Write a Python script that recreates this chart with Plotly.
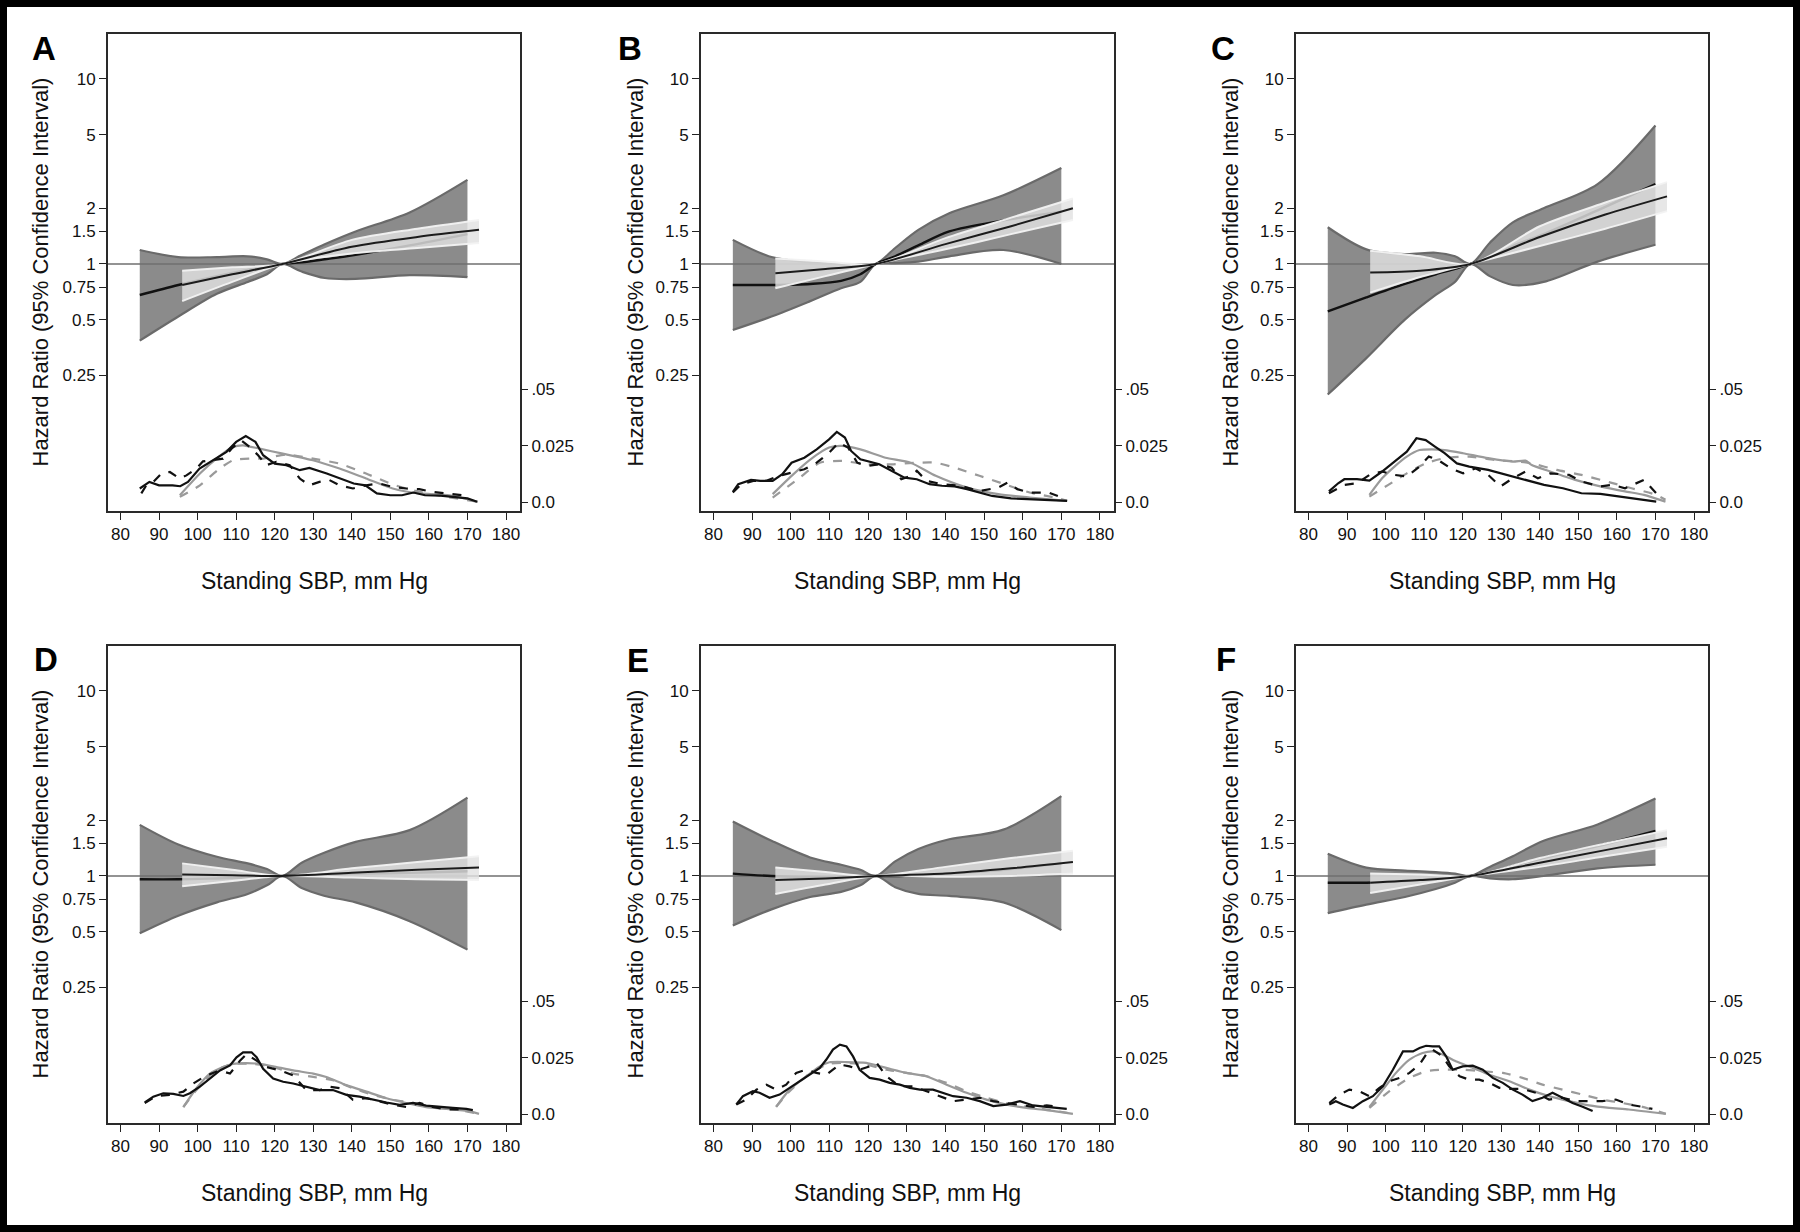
import plotly.graph_objects as go

# ---------------- axis / tick data ----------------
SBP_TICKS = list(range(80, 190, 10))
HR_TICKS = [0.25, 0.5, 0.75, 1, 1.5, 2, 5, 10]
HR_TICK_TEXT = ["0.25", "0.5", "0.75", "1", "1.5", "2", "5", "10"]
DENS_TICKS = [0, 0.025, 0.05]
DENS_TICK_TEXT = ["0.0", "0.025", ".05"]
PANEL_LABELS = ["A", "B", "C", "D", "E", "F"]
X_TITLE = "Standing SBP, mm Hg"
Y_TITLE = "Hazard Ratio (95% Confidence Interval)"
X_RANGE = [76.76, 183.63]
HR_REF = 1

# shared x grids for the hazard-ratio curves
DARK_X = [85, 95, 105, 113, 118, 122, 127, 133, 141, 155, 170]
LIGHT_X = [96, 109, 122, 140, 157, 173]

# ---------------- Panel A ----------------
A_DARK_UP = [1.19, 1.09, 1.09, 1.10, 1.06, 1.0, 1.12, 1.28, 1.50, 1.90, 2.85]
A_DARK_LO = [0.385, 0.52, 0.69, 0.80, 0.88, 1.0, 0.91, 0.84, 0.83, 0.87, 0.85]
A_LINE1 = [0.68, 0.77, 0.86, 0.93, 0.97, 1.0, 1.02, 1.06, 1.12, 1.26, 1.45]
A_LIGHT_UP = [0.92, 0.96, 1.0, 1.35, 1.55, 1.73]
A_LIGHT_LO = [0.63, 0.80, 1.0, 1.14, 1.22, 1.30]
A_LINE2 = [0.77, 0.88, 1.0, 1.24, 1.40, 1.53]
A_BS_X = [85, 87.5, 90, 93.5, 95.5, 97.5, 100.5, 104, 107.5, 110, 112.5, 115, 117, 120, 123, 126.5, 129, 133.5, 137, 140.5, 143.5, 146.5, 150, 153, 156, 159, 163, 166, 170, 172.5]
A_BS_Y = [.0062, .0091, .0076, .0076, .0072, .0091, .015, .0187, .0224, .0268, .0294, .0268, .0209, .0172, .0165, .0143, .0153, .0128, .0106, .0084, .0076, .004, .0032, .0032, .0044, .0032, .003, .0025, .0018, .0003]
A_BD_X = [85.4, 86.7, 88.5, 90.6, 92.8, 95.4, 97.1, 99.7, 101.4, 104, 106.6, 108.8, 111.3, 113.5, 115.7, 117.8, 120.4, 123.9, 126.5, 129, 131.6, 134.2, 136.8, 140.3, 143.7, 147.2, 150.6, 154.1, 157.5, 161, 164.5, 167.9, 169.6]
A_BD_Y = [.004, .0076, .0091, .0128, .0135, .0106, .012, .015, .0182, .0187, .0194, .0238, .0275, .0246, .0209, .0165, .018, .0165, .0106, .0076, .0091, .0099, .0076, .0062, .0076, .0084, .0069, .0062, .0059, .0047, .004, .0032, .003]
A_GS_X = [95.4, 100.6, 104.9, 109.2, 111.8, 116.1, 122.1, 129.9, 136.8, 143.7, 150.6, 157.5, 165.3, 172.7]
A_GS_Y = [.0032, .0128, .0194, .0246, .0253, .0238, .0216, .0187, .015, .0106, .0062, .004, .0032, .0003]
A_GD_X = [95.4, 100.6, 105.7, 109.2, 113.5, 117, 123, 129.9, 136.8, 143.7, 150.6, 157.5, 164.5, 172.7]
A_GD_Y = [.0025, .0076, .015, .0187, .0194, .0194, .0212, .0194, .0172, .0128, .008, .0047, .0025, .0003]

# ---------------- Panel B ----------------
B_DARK_UP = [1.35, 1.09, 1.02, 1.0, 1.0, 1.0, 1.22, 1.53, 1.88, 2.35, 3.3]
B_DARK_LO = [0.44, 0.52, 0.63, 0.74, 0.80, 1.0, 1.01, 1.03, 1.10, 1.19, 1.0]
B_LINE1 = [0.77, 0.77, 0.78, 0.81, 0.88, 1.0, 1.10, 1.26, 1.50, 1.72, 1.92]
B_LIGHT_UP = [1.07, 1.03, 1.0, 1.38, 1.78, 2.26]
B_LIGHT_LO = [0.74, 0.86, 1.0, 1.20, 1.45, 1.73]
B_LINE2 = [0.89, 0.94, 1.0, 1.28, 1.60, 2.0]
B_BS_X = [85, 86.4, 89.7, 92.1, 95.3, 97.8, 100.2, 103.5, 106.7, 109.9, 111.9, 114, 115.6, 118, 122.9, 126.1, 129.4, 132.6, 135.9, 139.1, 142.4, 145.6, 148.8, 152.1, 157, 161.8, 166.7, 171.5]
B_BS_Y = [.0047, .0081, .01, .0096, .0096, .0125, .0176, .0198, .0235, .0279, .0312, .0287, .0228, .0191, .0169, .014, .011, .0103, .0081, .0074, .0071, .0059, .0044, .0029, .0018, .0015, .0012, .0007]
B_BD_X = [85, 87.2, 90.5, 93.7, 97, 100.2, 103.5, 106.7, 109.9, 112.4, 114.8, 117.2, 119.7, 122.9, 126.1, 128.6, 131, 132.6, 135.1, 139.1, 144, 148.8, 153.7, 156.1, 158.6, 161.8, 166.7, 169.1]
B_BD_Y = [.0044, .0081, .0096, .0096, .0118, .0132, .0147, .0176, .022, .0265, .0243, .0176, .0162, .0169, .0154, .0103, .0118, .014, .0096, .0081, .0074, .0051, .0066, .0088, .0059, .0044, .0044, .0029]
B_GS_X = [95.3, 100.2, 105.1, 109.9, 113.2, 118, 124.5, 131, 137.5, 145.6, 153.7, 161.8, 171.5]
B_GS_Y = [.0037, .0118, .0191, .0243, .025, .0235, .0198, .0176, .0118, .0066, .0037, .0022, .0007]
B_GD_X = [95.3, 101.8, 107.5, 113.2, 119.7, 126.1, 132.6, 137.5, 142.4, 148.8, 155.3, 161.8, 168.3, 171.5]
B_GD_Y = [.0022, .0103, .0176, .0184, .0169, .0169, .0176, .0176, .0154, .0118, .0081, .0044, .0022, .0007]

# ---------------- Panel C ----------------
C_DARK_UP = [1.58, 1.20, 1.13, 1.15, 1.10, 1.0, 1.30, 1.68, 2.0, 2.7, 5.6]
C_DARK_LO = [0.197, 0.31, 0.50, 0.68, 0.80, 1.0, 0.86, 0.77, 0.80, 1.03, 1.27]
C_LINE1 = [0.555, 0.66, 0.78, 0.88, 0.94, 1.0, 1.08, 1.25, 1.45, 1.95, 2.7]
C_LIGHT_UP = [1.18, 1.10, 1.0, 1.60, 2.15, 2.77]
C_LIGHT_LO = [0.70, 0.85, 1.0, 1.25, 1.55, 1.93]
C_LINE2 = [0.90, 0.92, 1.0, 1.40, 1.85, 2.32]
C_BS_X = [85.3, 87.7, 89.3, 92.6, 95.8, 99.1, 102.3, 105.5, 108, 110.4, 112.8, 115.3, 118.5, 121.7, 126.6, 131.4, 136.3, 141.1, 146, 150.8, 155.7, 160.5, 165.4, 170.2]
C_BS_Y = [.0049, .0085, .0103, .0103, .0097, .0137, .0181, .0225, .0284, .0276, .0247, .0218, .0173, .0159, .0144, .0122, .01, .0078, .0063, .0041, .0038, .0026, .0015, .0004]
C_BD_X = [85.3, 89.3, 92.6, 95.8, 99.1, 102.3, 105.5, 108.8, 111.2, 113.6, 116.9, 120.1, 123.3, 126.6, 129.8, 133, 136.3, 139.5, 142.7, 147.6, 150.8, 155.7, 158.9, 162.1, 167, 170.2]
C_BD_Y = [.0041, .0078, .0085, .0122, .0137, .0122, .0115, .0159, .0203, .0188, .0151, .0129, .0151, .0122, .0071, .0107, .0137, .0107, .0129, .0122, .0093, .0071, .0078, .0063, .01, .0041]
C_GS_X = [95.8, 99.1, 102.3, 105.5, 108.8, 112, 115.3, 120.1, 126.6, 133, 136.3, 137.9, 142.7, 149.2, 155.7, 162.1, 167, 172.6]
C_GS_Y = [.0034, .0107, .0159, .0203, .0232, .0235, .0232, .0218, .0196, .0181, .0185, .0166, .0137, .01, .0071, .0049, .0034, .0004]
C_GD_X = [95.8, 100.7, 105.5, 110.4, 115.3, 121.7, 128.2, 134.6, 137.9, 144.4, 150.8, 157.3, 163.8, 170.2, 172.6]
C_GD_Y = [.0026, .0078, .0129, .0173, .0196, .0203, .0188, .0181, .0173, .0144, .0122, .0093, .0063, .0034, .0012]

# ---------------- Panel D ----------------
D_DARK_UP = [1.89, 1.48, 1.27, 1.17, 1.09, 1.0, 1.18, 1.34, 1.53, 1.77, 2.65]
D_DARK_LO = [0.49, 0.61, 0.72, 0.80, 0.89, 1.0, 0.86, 0.78, 0.72, 0.57, 0.40]
D_LINE1 = [0.96, 0.96, 0.97, 0.98, 0.99, 1.0, 1.01, 1.02, 1.03, 1.04, 1.06]
D_LIGHT_UP = [1.17, 1.08, 1.0, 1.10, 1.19, 1.28]
D_LIGHT_LO = [0.88, 0.94, 1.0, 0.98, 0.96, 0.95]
D_LINE2 = [1.02, 1.01, 1.0, 1.04, 1.08, 1.11]
D_BS_X = [86.3, 88.5, 91.1, 93.7, 96.3, 98.0, 100.6, 103.2, 105.8, 108.4, 110.1, 111.8, 114, 115.3, 117, 119.6, 122.2, 124.8, 128.2, 131.7, 135.1, 138.6, 142.0, 145.5, 149.0, 152.4, 155.9, 159.3, 162.8, 166.2, 169.7, 171.4]
D_BS_Y = [.0053, .0079, .0094, .0091, .0082, .0094, .0123, .0159, .0195, .0217, .0253, .0275, .0275, .0253, .0202, .0159, .0145, .0137, .0123, .0108, .0108, .0087, .0079, .0065, .0053, .0043, .0051, .0039, .0033, .0029, .0025, .0019]
D_BD_X = [86.3, 89.4, 92.8, 96.3, 98.9, 102.3, 105.8, 108.4, 111, 112.7, 115.3, 117.9, 121.4, 124.8, 128.2, 131.7, 134.3, 136.9, 140.3, 143.8, 147.2, 150.7, 154.1, 157.6, 161, 164.5, 168]
D_BD_Y = [.0051, .0082, .0087, .0101, .0137, .0173, .0195, .0181, .0238, .0267, .0238, .021, .0195, .0173, .0108, .0108, .0123, .0116, .0065, .0072, .0058, .0043, .0033, .0051, .0033, .0022, .0022]
D_GS_X = [96.3, 99.7, 103.2, 106.6, 109.2, 112.7, 116.1, 120.5, 124.8, 130, 133.4, 138.6, 143.8, 149, 154.1, 159.3, 164.5, 170.5, 173]
D_GS_Y = [.0033, .0116, .0181, .021, .0224, .0227, .0224, .021, .0195, .0181, .0166, .013, .0101, .0072, .0051, .0033, .0025, .0014, .0003]
D_GD_X = [96.3, 99.7, 103.2, 106.6, 109.2, 114.4, 119.6, 124.8, 130, 135.1, 140.3, 145.5, 150.7, 155.9, 161, 166.2, 173]
D_GD_Y = [.0033, .0108, .0173, .021, .0224, .0224, .021, .0181, .0166, .0152, .0116, .0087, .0065, .0051, .0033, .0025, .0003]

# ---------------- Panel E ----------------
E_DARK_UP = [1.97, 1.55, 1.26, 1.15, 1.08, 1.0, 1.20, 1.40, 1.58, 1.78, 2.70]
E_DARK_LO = [0.54, 0.66, 0.77, 0.82, 0.89, 1.0, 0.87, 0.80, 0.78, 0.72, 0.51]
E_LINE1 = [1.03, 1.0, 0.99, 0.99, 1.0, 1.0, 1.0, 1.01, 1.03, 1.08, 1.17]
E_LIGHT_UP = [1.11, 1.05, 1.0, 1.12, 1.25, 1.37]
E_LIGHT_LO = [0.80, 0.90, 1.0, 0.99, 1.0, 1.03]
E_LINE2 = [0.95, 0.97, 1.0, 1.03, 1.10, 1.19]
E_BS_X = [85.9, 87.6, 90.2, 91.9, 94.5, 97.1, 99.7, 102.3, 104.9, 107.5, 109.2, 110.9, 112.7, 114.4, 116.1, 117.8, 120.4, 123, 125.6, 128.2, 130.8, 133.4, 136.8, 139.4, 142, 145.5, 148.9, 152.4, 155.8, 159.3, 162.7, 166.2, 169.6, 171.4]
E_BS_Y = [.0044, .0081, .0103, .0096, .0074, .0088, .0118, .0147, .0176, .0206, .0243, .0287, .0309, .0301, .0257, .0198, .0162, .0154, .014, .0132, .0118, .011, .011, .0096, .0081, .0074, .0059, .0037, .0044, .0059, .004, .0034, .0029, .0025]
E_BD_X = [85.9, 88.5, 91.1, 93.7, 96.2, 98.8, 101.4, 104, 106.6, 109.2, 110.9, 112.7, 115.2, 117.8, 120.4, 122.2, 124.7, 128.2, 131.6, 135.1, 138.5, 142, 145.5, 148.9, 152.4, 155.8, 159.3, 162.7, 166.2, 169.6]
E_BD_Y = [.0044, .0066, .011, .0132, .011, .0132, .0184, .0198, .0184, .0176, .0198, .0221, .0213, .0198, .0213, .0228, .0169, .0125, .0125, .0103, .0081, .0059, .0066, .0074, .0059, .0051, .0044, .0034, .004, .0034]
E_GS_X = [96.2, 99.7, 104, 107.5, 110, 114.4, 119.5, 124.7, 129.9, 135.1, 140.3, 145.5, 150.6, 155.8, 161, 166.2, 173]
E_GS_Y = [.0034, .011, .0169, .0213, .0231, .0232, .0228, .0206, .0184, .0169, .0132, .0096, .0066, .0044, .0029, .0019, .0003]
E_GD_X = [96.2, 99.7, 104, 107.5, 110, 114.4, 119.5, 124.7, 129.9, 135.1, 140.3, 145.5, 150.6, 155.8, 161, 166.2, 173]
E_GD_Y = [.0034, .0103, .0169, .0206, .0225, .0228, .022, .0198, .0184, .0169, .014, .0103, .0074, .0051, .0034, .0022, .0003]

# ---------------- Panel F ----------------
F_DARK_UP = [1.32, 1.11, 1.07, 1.05, 1.03, 1.0, 1.12, 1.28, 1.55, 1.90, 2.62]
F_DARK_LO = [0.63, 0.70, 0.77, 0.85, 0.92, 1.0, 0.97, 0.96, 1.0, 1.10, 1.15]
F_LINE1 = [0.92, 0.92, 0.94, 0.97, 0.99, 1.0, 1.05, 1.13, 1.25, 1.45, 1.75]
F_LIGHT_UP = [1.03, 1.02, 1.0, 1.25, 1.50, 1.77]
F_LIGHT_LO = [0.81, 0.90, 1.0, 1.12, 1.28, 1.44]
F_LINE2 = [0.92, 0.95, 1.0, 1.18, 1.38, 1.60]
F_BS_X = [85.4, 87.1, 88.9, 91.5, 94.1, 96.7, 99.3, 101.9, 104.5, 107.1, 108.8, 110.5, 112.2, 113.9, 115.7, 117.4, 120, 122.6, 125.2, 127.8, 130.4, 133, 135.5, 138.1, 140.7, 143.3, 145.9, 148.5, 151.1, 153.7]
F_BS_Y = [.0044, .0059, .0044, .0029, .0059, .0081, .0125, .0198, .0279, .0279, .0294, .0304, .0301, .0301, .0257, .0198, .0213, .0216, .0198, .0162, .014, .011, .0088, .0059, .0074, .0096, .0074, .0051, .0034, .0015]
F_BD_X = [85.4, 88, 90.6, 93.2, 95.8, 98.4, 101, 103.6, 106.2, 108.8, 110.5, 112.2, 114.8, 116.5, 119.2, 121.7, 124.3, 126.9, 129.5, 132.1, 135.5, 139, 142.4, 145.9, 149.3, 152.8, 156.2, 159.7, 163.1, 166.6, 169.2]
F_BD_Y = [.0051, .0088, .011, .0103, .0081, .0118, .0147, .0162, .0184, .0221, .0265, .0287, .0257, .0213, .0169, .0154, .0154, .014, .0118, .0113, .0113, .0096, .0066, .0074, .0059, .0059, .0059, .0066, .0044, .0034, .0025]
F_GS_X = [95.8, 99.3, 102.7, 106.2, 109.6, 112.2, 114.8, 118.2, 122.6, 126.9, 132.1, 137.3, 142.4, 147.6, 152.8, 158, 163.1, 172.7]
F_GS_Y = [.0034, .011, .0184, .0243, .0272, .0279, .0265, .0235, .0206, .0176, .0147, .011, .0081, .0059, .004, .0029, .0022, .0003]
F_GD_X = [95.8, 101, 106.2, 110.5, 114.8, 120, 125.2, 130.4, 135.5, 140.7, 145.9, 151.1, 156.2, 161.4, 166.6, 172.7]
F_GD_Y = [.0029, .0103, .0162, .0191, .0198, .0198, .0191, .0184, .0162, .0132, .011, .0088, .0066, .0051, .0034, .0003]

PANELS = [
    (A_DARK_UP, A_DARK_LO, A_LINE1, A_LIGHT_UP, A_LIGHT_LO, A_LINE2,
     (A_BS_X, A_BS_Y), (A_BD_X, A_BD_Y), (A_GS_X, A_GS_Y), (A_GD_X, A_GD_Y)),
    (B_DARK_UP, B_DARK_LO, B_LINE1, B_LIGHT_UP, B_LIGHT_LO, B_LINE2,
     (B_BS_X, B_BS_Y), (B_BD_X, B_BD_Y), (B_GS_X, B_GS_Y), (B_GD_X, B_GD_Y)),
    (C_DARK_UP, C_DARK_LO, C_LINE1, C_LIGHT_UP, C_LIGHT_LO, C_LINE2,
     (C_BS_X, C_BS_Y), (C_BD_X, C_BD_Y), (C_GS_X, C_GS_Y), (C_GD_X, C_GD_Y)),
    (D_DARK_UP, D_DARK_LO, D_LINE1, D_LIGHT_UP, D_LIGHT_LO, D_LINE2,
     (D_BS_X, D_BS_Y), (D_BD_X, D_BD_Y), (D_GS_X, D_GS_Y), (D_GD_X, D_GD_Y)),
    (E_DARK_UP, E_DARK_LO, E_LINE1, E_LIGHT_UP, E_LIGHT_LO, E_LINE2,
     (E_BS_X, E_BS_Y), (E_BD_X, E_BD_Y), (E_GS_X, E_GS_Y), (E_GD_X, E_GD_Y)),
    (F_DARK_UP, F_DARK_LO, F_LINE1, F_LIGHT_UP, F_LIGHT_LO, F_LINE2,
     (F_BS_X, F_BS_Y), (F_BD_X, F_BD_Y), (F_GS_X, F_GS_Y), (F_GD_X, F_GD_Y)),
]

# ---------------- layout geometry (pixels) ----------------
W, H = 1800, 1232
COLS_PX = [(108, 520), (701, 1114), (1296, 1708)]
ROWS_PX = [(34, 511), (646, 1123)]
YTITLE_X = [40, 635, 1230]
LETTER_POS = [(44, 48), (630, 48), (1223, 48), (46, 659), (638, 660), (1226, 659)]
HR_LOG_RANGE = [-1.335, 1.243]
DENS_RANGE = [-0.00376, 0.2072]

FONT = "Liberation Sans, Arial, Helvetica, sans-serif"
DARK_FILL = "#8b8b8b"
DARK_EDGE = "#6a6a6a"
LIGHT_FILL = "rgba(226,226,226,0.82)"
LIGHT_EDGE = "rgba(242,242,242,0.95)"
GRAY_LINE = "#9a9a9a"
TICK_FONT = dict(size=17, color="#111")

fig = go.Figure()
layout = dict(
    width=W, height=H, autosize=False,
    margin=dict(l=0, r=0, t=0, b=0),
    paper_bgcolor="white", plot_bgcolor="white",
    showlegend=False, font=dict(family=FONT, color="#111"),
    hovermode=False,
)
annotations = []

for i, panel in enumerate(PANELS):
    dark_up, dark_lo, line1, light_up, light_lo, line2, bs, bd, gs, gd = panel
    col, row = i % 3, i // 3
    xa = "x" if i == 0 else f"x{i + 1}"
    ya = f"y{2 * i + 1}" if i > 0 else "y"
    yd = f"y{2 * i + 2}"
    xkey = "xaxis" if i == 0 else f"xaxis{i + 1}"
    ykey = "yaxis" if i == 0 else f"yaxis{2 * i + 1}"
    ydkey = f"yaxis{2 * i + 2}"

    x0, x1 = COLS_PX[col]
    t0, t1 = ROWS_PX[row]
    dom_x = [x0 / W, x1 / W]
    dom_y = [1 - t1 / H, 1 - t0 / H]

    layout[xkey] = dict(
        domain=dom_x, anchor=ya, range=X_RANGE, tickmode="array", tickvals=SBP_TICKS,
        ticks="outside", ticklen=7, tickwidth=1.3, tickcolor="#222",
        showline=True, linecolor="#2a2a2a", linewidth=1.8, mirror=True,
        showgrid=False, zeroline=False, tickfont=TICK_FONT,
    )
    layout[ykey] = dict(
        domain=dom_y, anchor=xa, type="log", range=HR_LOG_RANGE, tickmode="array",
        tickvals=HR_TICKS, ticktext=HR_TICK_TEXT,
        ticks="outside", ticklen=7, tickwidth=1.3, tickcolor="#222",
        showline=True, linecolor="#2a2a2a", linewidth=1.8, mirror=True,
        showgrid=False, zeroline=False, tickfont=TICK_FONT,
    )
    layout[ydkey] = dict(
        overlaying=ya, anchor=xa, side="right", range=DENS_RANGE, tickmode="array",
        tickvals=DENS_TICKS, ticktext=DENS_TICK_TEXT,
        ticks="outside", ticklen=7, tickwidth=1.3, tickcolor="#222",
        showline=False, showgrid=False, zeroline=False, tickfont=TICK_FONT,
    )

    # dark confidence band
    fig.add_trace(go.Scatter(x=DARK_X, y=dark_lo, xaxis=xa, yaxis=ya, mode="lines",
                             line=dict(color=DARK_EDGE, width=2.2, shape="spline", smoothing=0.9)))
    fig.add_trace(go.Scatter(x=DARK_X, y=dark_up, xaxis=xa, yaxis=ya, mode="lines",
                             fill="tonexty", fillcolor=DARK_FILL,
                             line=dict(color=DARK_EDGE, width=2.2, shape="spline", smoothing=0.9)))
    # reference line HR = 1
    fig.add_trace(go.Scatter(x=X_RANGE, y=[HR_REF, HR_REF], xaxis=xa, yaxis=ya, mode="lines",
                             line=dict(color="#6f6f6f", width=1.5)))
    # model 1 line
    fig.add_trace(go.Scatter(x=DARK_X, y=line1, xaxis=xa, yaxis=ya, mode="lines",
                             line=dict(color="#111", width=2.4, shape="spline", smoothing=0.9)))
    # light confidence band
    fig.add_trace(go.Scatter(x=LIGHT_X, y=light_lo, xaxis=xa, yaxis=ya, mode="lines",
                             line=dict(color=LIGHT_EDGE, width=2.0, shape="spline", smoothing=0.8)))
    fig.add_trace(go.Scatter(x=LIGHT_X, y=light_up, xaxis=xa, yaxis=ya, mode="lines",
                             fill="tonexty", fillcolor=LIGHT_FILL,
                             line=dict(color=LIGHT_EDGE, width=2.0, shape="spline", smoothing=0.8)))
    # model 2 line
    fig.add_trace(go.Scatter(x=LIGHT_X, y=line2, xaxis=xa, yaxis=ya, mode="lines",
                             line=dict(color="#1c1c1c", width=2.0, shape="spline", smoothing=0.8)))

    # density curves (right axis)
    fig.add_trace(go.Scatter(x=gd[0], y=gd[1], xaxis=xa, yaxis=yd, mode="lines",
                             line=dict(color=GRAY_LINE, width=2.2, dash="dash", shape="spline", smoothing=0.6)))
    fig.add_trace(go.Scatter(x=gs[0], y=gs[1], xaxis=xa, yaxis=yd, mode="lines",
                             line=dict(color=GRAY_LINE, width=2.2, shape="spline", smoothing=0.6)))
    fig.add_trace(go.Scatter(x=bd[0], y=bd[1], xaxis=xa, yaxis=yd, mode="lines",
                             line=dict(color="#111", width=2.2, dash="dash")))
    fig.add_trace(go.Scatter(x=bs[0], y=bs[1], xaxis=xa, yaxis=yd, mode="lines",
                             line=dict(color="#111", width=2.2)))

    # titles
    annotations.append(dict(text=X_TITLE, xref="paper", yref="paper",
                            x=(x0 + x1) / 2 / W, y=1 - (t1 + 70) / H,
                            showarrow=False, xanchor="center", yanchor="middle",
                            font=dict(size=23, color="#111", family=FONT)))
    annotations.append(dict(text=Y_TITLE, xref="paper", yref="paper",
                            x=YTITLE_X[col] / W, y=1 - (t0 + t1) / 2 / H, textangle=-90,
                            showarrow=False, xanchor="center", yanchor="middle",
                            font=dict(size=22, color="#111", family=FONT)))
    lx, ly = LETTER_POS[i]
    annotations.append(dict(text=f"<b>{PANEL_LABELS[i]}</b>", xref="paper", yref="paper",
                            x=lx / W, y=1 - ly / H, showarrow=False,
                            xanchor="center", yanchor="middle",
                            font=dict(size=33, color="#000", family=FONT)))

layout["annotations"] = annotations
layout["shapes"] = [dict(type="rect", xref="paper", yref="paper", x0=0, x1=1, y0=0, y1=1,
                         line=dict(color="#000", width=14), fillcolor="rgba(0,0,0,0)")]
fig.update_layout(**layout)
fig.write_html("out.html", config={"displayModeBar": False},
               post_script="document.body.style.margin='0px';document.body.style.overflow='hidden';")
